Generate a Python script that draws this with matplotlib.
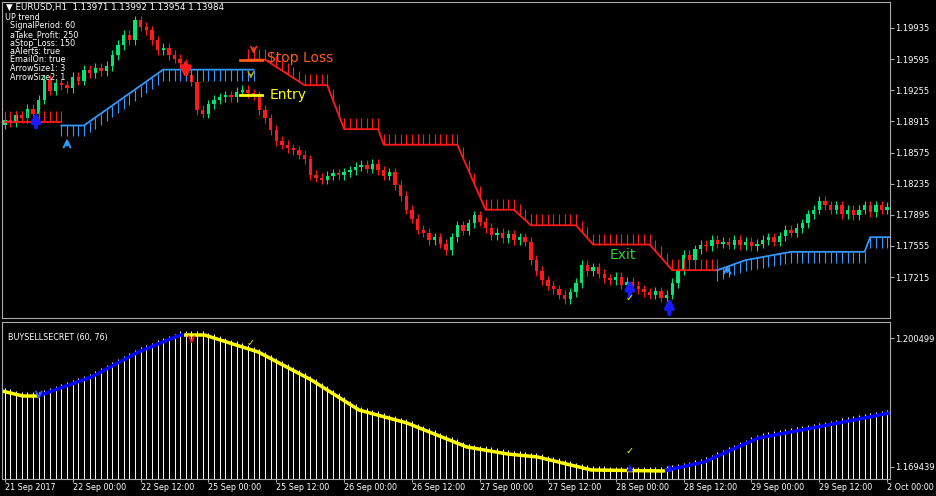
import numpy as np
import matplotlib
matplotlib.use("Agg")
import matplotlib.pyplot as plt

closes = [1.1893,1.1890,1.1898,1.1895,1.1905,1.1900,1.1915,1.1937,1.1925,1.1933,
1.1931,1.1928,1.1940,1.1936,1.1948,1.1944,1.1950,1.1946,1.1952,1.1964,
1.1975,1.1986,1.1980,1.2002,1.1995,1.1991,1.1980,1.1969,1.1972,1.1964,
1.1960,1.1955,1.1942,1.1935,1.1904,1.1900,1.1910,1.1915,1.1918,1.1920,
1.1918,1.1924,1.1926,1.1922,1.1920,1.1904,1.1895,1.1882,1.1870,1.1866,
1.1862,1.1860,1.1855,1.1850,1.1833,1.1830,1.1828,1.1832,1.1835,1.1833,
1.1836,1.1838,1.1842,1.1844,1.1840,1.1845,1.1838,1.1832,1.1836,1.1822,
1.1810,1.1795,1.1785,1.1773,1.1770,1.1762,1.1765,1.1758,1.1751,1.1765,
1.1778,1.1772,1.1780,1.1789,1.1782,1.1775,1.1767,1.1770,1.1764,1.1768,
1.1762,1.1765,1.1760,1.1740,1.1728,1.1718,1.1712,1.1708,1.1702,1.1697,
1.1705,1.1715,1.1735,1.1728,1.1732,1.1725,1.1720,1.1718,1.1722,1.1713,
1.1716,1.1712,1.1708,1.1705,1.1702,1.1706,1.1699,1.1702,1.1715,1.1729,
1.1746,1.1740,1.1752,1.1757,1.1755,1.1762,1.1758,1.1760,1.1757,1.1762,
1.1756,1.1760,1.1755,1.1758,1.1762,1.1765,1.1760,1.1766,1.1773,1.1770,
1.1775,1.1780,1.1790,1.1795,1.1805,1.1800,1.1795,1.1800,1.1790,1.1795,
1.1789,1.1795,1.1800,1.1792,1.1800,1.1795,1.1798]
first_open = 1.1888
wick = 0.0005

stop_red_a = [(0,1.1891),(10,1.1891)]
stop_blue_b = [(10,1.1887),(14,1.1887),(28,1.1948),(44,1.1948)]
stop_red_c = [(43,1.1959),(46,1.1959),(53,1.1931),(57,1.1931),(60,1.1883),(66,1.1883),(67,1.1866),
              (80,1.1866),(85,1.1795),(90,1.1795),(93,1.1778),(101,1.1778),(104,1.1757),(114,1.1757),
              (118,1.1729),(126,1.1729)]
stop_blue_d = [(126,1.1729),(131,1.1740),(139,1.1749),(152,1.1749),(153,1.1765),(157,1.1765)]

ind_x = [-0.5,3.2,5.8,15.3,23.6,31.0,35.3,44.8,54.2,62.6,71.1,81.7,88.9,94.2,103.7,116.4,123.6,133.2,142.7,156.4]
ind_v = [1.18774,1.18653,1.18653,1.19111,1.19713,1.20122,1.20122,1.19713,1.19039,1.18316,1.18003,
         1.17425,1.17257,1.17185,1.16872,1.16848,1.17064,1.17642,1.17883,1.18244]

top_ticks = [1.19935,1.19595,1.19255,1.18915,1.18575,1.18235,1.17895,1.17555,1.17215]
bot_ticks = [1.200499,1.169439]
date_labels = ["21 Sep 2017","22 Sep 00:00","22 Sep 12:00","25 Sep 00:00","25 Sep 12:00","26 Sep 00:00",
               "26 Sep 12:00","27 Sep 00:00","27 Sep 12:00","28 Sep 00:00","28 Sep 12:00","29 Sep 00:00",
               "29 Sep 12:00","2 Oct 00:00"]

W, H = 936, 496
fig = plt.figure(figsize=(W/100, H/100), dpi=100, facecolor="black")
def px2fig(x0, y0, x1, y1):
    return [x0/W, 1-y1/H, (x1-x0)/W, (y1-y0)/H]
ax = fig.add_axes(px2fig(2, 2, 890, 318), facecolor="black")
ax2 = fig.add_axes(px2fig(2, 322, 890, 479), facecolor="black")
XMIN, XMAX = -0.5, 156.5
pp = 0.0001092
ax.set_xlim(XMIN, XMAX); ax.set_ylim(1.17215-41*pp, 1.19935+26*pp)
ax2.set_xlim(XMIN, XMAX); ax2.set_ylim(1.169439-12*0.0002408, 1.200499+16*0.0002408)

opens = [first_open] + closes[:-1]
for i, (o, c) in enumerate(zip(opens, closes)):
    col = "#00e676" if c >= o else "#ff1a1a"
    ax.vlines(i, min(o, c)-wick, max(o, c)+wick, color=col, lw=0.8)
    ax.bar(i, max(abs(c-o), 0.00005), bottom=min(o, c), width=0.6, color=col, lw=0)

def draw_stop(pts, col, hatch_dir):
    xs = [p[0] for p in pts]; ys = [p[1] for p in pts]
    ax.plot(xs, ys, color=col, lw=1.3)
    hx = np.arange(int(np.ceil(xs[0])), int(xs[-1])+1)
    hy = np.interp(hx, xs, ys)
    ax.vlines(hx, hy, hy + hatch_dir*0.0012, color=col, lw=0.8)
draw_stop(stop_red_a, "#ff1a1a", 1)
draw_stop(stop_blue_b, "#3399ff", -1)
draw_stop(stop_red_c, "#ff1a1a", 1)
draw_stop(stop_blue_d, "#3399ff", -1)

ax.plot([41.5, 45.5], [1.1959, 1.1959], color="#ff5a1a", lw=2)
ax.text(46.3, 1.1961, "Stop Loss", color="#ff5a1a", fontsize=10, va="center")
ax.plot([41.5, 45.5], [1.1920, 1.1920], color="yellow", lw=2)
ax.text(46.8, 1.1920, "Entry", color="yellow", fontsize=10, va="center")
ax.text(107, 1.1745, "Exit", color="#33cc33", fontsize=10, va="center")
ax.annotate("", xy=(44, 1.1962), xytext=(44, 1.1975), arrowprops=dict(arrowstyle="->", color="#ff3b1a", lw=1.2))
ax.annotate("", xy=(43.5, 1.1935), xytext=(43.5, 1.1946), arrowprops=dict(arrowstyle="->", color="#ccaa00", lw=1))
ax.annotate("", xy=(32, 1.1935), xytext=(32, 1.1958), arrowprops=dict(arrowstyle="-|>", color="#ff1a1a", lw=3, mutation_scale=14))
for (bx, y0, y1, col, lw) in [(5.5,1.1882,1.1905,"#1a1aff",3),(11,1.1862,1.1876,"#3399ff",1.5),
                              (110.5,1.1697,1.1722,"#1a1aff",3),(117.5,1.1678,1.1702,"#1a1aff",3),
                              (127.7,1.1724,1.1738,"#3399ff",1.5)]:
    ax.annotate("", xy=(bx, y1), xytext=(bx, y0), arrowprops=dict(arrowstyle="->", color=col, lw=lw, mutation_scale=12))
ax.text(110.5, 1.1695, "✓", color="yellow", fontsize=7, ha="center")

hdr = ["UP trend","  SignalPeriod: 60","  aTake_Profit: 250","  aStop_Loss: 150","  aAlerts: true",
       "  EmailOn: true","  ArrowSize1: 3","  ArrowSize2: 1"]
fig.text(6/W, 1-7/H, "▼ EURUSD,H1  1.13971 1.13992 1.13954 1.13984", color="white", fontsize=6.3, va="center")
for k, s in enumerate(hdr):
    fig.text(5/W, 1-(17.5+8.5*k)/H, s, color="white", fontsize=5.8, va="center")

bx = np.arange(0, 157)
bv = np.interp(bx, ind_x, ind_v)
base = ax2.get_ylim()[0]
ax2.vlines(bx, base, bv + 0.0009, color="white", lw=0.7)
segs = [(XMIN, 6, "yellow"), (6, 32, "#0000ff"), (32, 117, "yellow"), (117, XMAX, "#0000ff")]
for a, b, col in segs:
    m = (np.array(ind_x) > a) & (np.array(ind_x) < b)
    xs = [a] + list(np.array(ind_x)[m]) + [b]
    ax2.plot(xs, np.interp(xs, ind_x, ind_v), color=col, lw=2.5)
ax2.text(0.5, 1.2005, "BUYSELLSECRET (60, 76)", color="white", fontsize=5.8, va="center")
ax2.annotate("", xy=(6, 1.1852), xytext=(6, 1.1872), arrowprops=dict(arrowstyle="->", color="#3366ff", lw=1.2))
ax2.annotate("", xy=(33, 1.1985), xytext=(33, 1.2004), arrowprops=dict(arrowstyle="->", color="#ff1a1a", lw=1.2))
for bxx in (110.5, 117.5):
    ax2.annotate("", xy=(bxx, 1.1707), xytext=(bxx, 1.1685), arrowprops=dict(arrowstyle="-|>", color="#1a1aff", lw=1.2, mutation_scale=8))
ax2.text(43.5, 1.1985, "✓", color="yellow", fontsize=7, ha="center")
ax2.text(110.5, 1.1725, "✓", color="yellow", fontsize=7, ha="center")

for a in (ax, ax2):
    for s in a.spines.values():
        s.set_color("#aaaaaa"); s.set_linewidth(0.8)
    a.yaxis.tick_right()
    a.tick_params(colors="white", labelsize=6, length=3, pad=1, direction="out", color="#aaaaaa")
ax.set_xticks([])
ax.set_yticks(top_ticks); ax.set_yticklabels([f"{t:.5f}" for t in top_ticks])
ax2.set_yticks(bot_ticks); ax2.set_yticklabels([f"{t:.6f}" for t in bot_ticks])
ax2.set_xticks(np.arange(len(date_labels))*12 + 0.0)
ax2.set_xticklabels(date_labels, ha="left")
ax2.tick_params(axis="x", labelsize=5.8, length=2, pad=1)
fig.savefig("out.png", dpi=100, facecolor="black")
